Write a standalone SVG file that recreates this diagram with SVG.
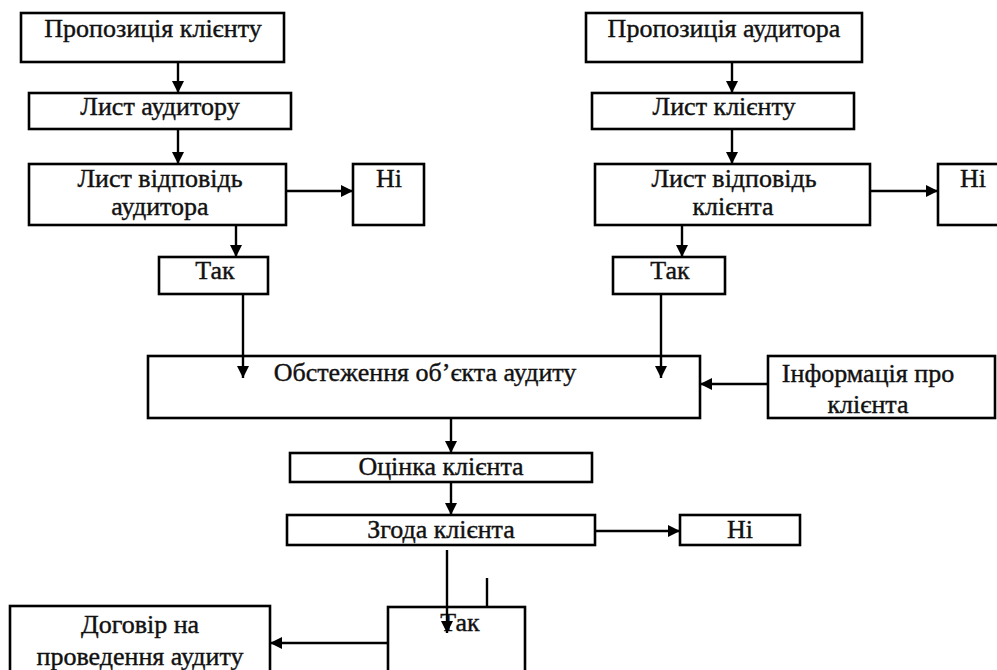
<svg xmlns="http://www.w3.org/2000/svg" width="997" height="670" viewBox="0 0 997 670">
<defs>
<marker id="ah" viewBox="0 0 10 10" refX="10" refY="5" markerWidth="5" markerHeight="5" markerUnits="strokeWidth" orient="auto">
<path d="M0,0 L10,5 L0,10 z" fill="#000"/>
</marker>
<style>
.n rect{fill:#fff;stroke:#000;stroke-width:2.6}
text{font-family:"Liberation Serif","Times New Roman",serif;font-size:26px;fill:#111;stroke:#111;stroke-width:0.4;text-anchor:middle}
.c line{stroke:#000;stroke-width:2.4}
.c .a{marker-end:url(#ah)}
</style>
</defs>
<rect x="0" y="0" width="997" height="670" fill="#fff"/>
<g class="n" id="n1"><rect x="21" y="13" width="263" height="49"/><text x="153" y="37">Пропозиція клієнту</text></g>
<g class="n" id="n2"><rect x="29" y="93" width="262" height="36"/><text x="160" y="115">Лист аудитору</text></g>
<g class="n" id="n3"><rect x="29" y="164" width="257" height="61"/><text x="160" y="187">Лист відповідь</text><text x="160" y="215">аудитора</text></g>
<g class="n" id="n4"><rect x="353" y="164" width="71" height="61"/><text x="389" y="187">Ні</text></g>
<g class="n" id="n5"><rect x="159" y="257" width="109" height="37"/><text x="215" y="279">Так</text></g>
<g class="n" id="n6"><rect x="586" y="13" width="276" height="49"/><text x="724" y="37">Пропозиція аудитора</text></g>
<g class="n" id="n7"><rect x="592" y="93" width="262" height="36"/><text x="724" y="115">Лист клієнту</text></g>
<g class="n" id="n8"><rect x="595" y="164" width="275" height="61"/><text x="734" y="187">Лист відповідь</text><text x="733" y="215">клієнта</text></g>
<g class="n" id="n9"><rect x="938" y="164" width="70" height="61"/><text x="973" y="187">Ні</text></g>
<g class="n" id="n10"><rect x="613" y="257" width="112" height="37"/><text x="670" y="279">Так</text></g>
<g class="n" id="n11"><rect x="148" y="356" width="552" height="62"/><text x="425" y="381">Обстеження об’єкта аудиту</text></g>
<g class="n" id="n12"><rect x="768" y="356" width="227" height="62"/><text x="868" y="382">Інформація про</text><text x="868" y="413">клієнта</text></g>
<g class="n" id="n13"><rect x="290" y="453" width="302" height="29"/><text x="441" y="475">Оцінка клієнта</text></g>
<g class="n" id="n14"><rect x="287" y="515" width="308" height="30"/><text x="441" y="538">Згода клієнта</text></g>
<g class="n" id="n15"><rect x="680" y="515" width="120" height="30"/><text x="740" y="538">Ні</text></g>
<g class="n" id="n16"><rect x="388" y="607" width="137" height="70"/><text x="460" y="631">Так</text></g>
<g class="n" id="n17"><rect x="10" y="606" width="260" height="70"/><text x="140" y="633">Договір на</text><text x="140" y="665">проведення аудиту</text></g>
<g class="c" id="connectors">
<line class="a" x1="178" y1="62" x2="178" y2="93"/>
<line class="a" x1="178" y1="129" x2="178" y2="164"/>
<line class="a" x1="286" y1="191" x2="353" y2="191"/>
<line class="a" x1="236" y1="225" x2="236" y2="257"/>
<line class="a" x1="243" y1="294" x2="243" y2="378"/>
<line class="a" x1="732" y1="62" x2="732" y2="93"/>
<line class="a" x1="732" y1="129" x2="732" y2="164"/>
<line class="a" x1="870" y1="191" x2="938" y2="191"/>
<line class="a" x1="682" y1="225" x2="682" y2="257"/>
<line class="a" x1="661" y1="294" x2="661" y2="378"/>
<line class="a" x1="768" y1="384" x2="700" y2="384"/>
<line class="a" x1="451" y1="418" x2="451" y2="453"/>
<line class="a" x1="451" y1="482" x2="451" y2="515"/>
<line class="a" x1="595" y1="531" x2="680" y2="531"/>
<line class="a" x1="447" y1="550" x2="447" y2="633"/>
<line x1="487" y1="578" x2="487" y2="607"/>
<line class="a" x1="388" y1="643" x2="270" y2="643"/>
</g>
</svg>
